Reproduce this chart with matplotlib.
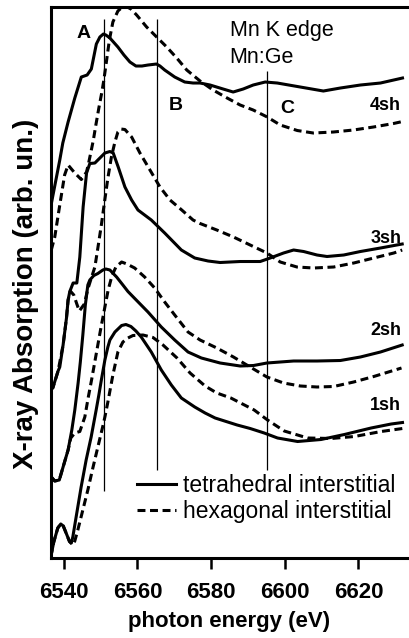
import matplotlib
matplotlib.use("Agg")
import matplotlib.pyplot as plt

plt.rcParams['font.family'] = ['Liberation Sans', 'DejaVu Sans']

# Mn K-edge XANES of Mn:Ge, calculated with 1 to 4 coordination shells.
# Solid: Mn on a tetrahedral interstitial site, dashed: hexagonal interstitial.
# Spectra are stacked vertically (arbitrary units).
tet_4sh_e = [6536.65, 6538.91, 6539.73, 6541.17, 6542.99, 6544.76, 6546.34, 6547.48, 6548.84, 6549.80,
             6550.75, 6551.43, 6552.52, 6554.69, 6556.33, 6557.96, 6559.59, 6561.22, 6562.86, 6565.17,
             6566.12, 6567.40, 6568.57, 6570.12, 6572.84, 6575.10, 6577.01, 6579.73, 6583.27, 6585.99,
             6588.71, 6591.43, 6594.69, 6597.96, 6604.22, 6610.48, 6615.10, 6620.54, 6625.99, 6631.97]
tet_4sh_mu = [3.55, 3.98, 4.15, 4.36, 4.60, 4.81, 4.83, 4.89, 5.14, 5.21,
              5.24, 5.23, 5.20, 5.11, 5.03, 4.96, 4.92, 4.92, 4.93, 4.94,
              4.92, 4.88, 4.85, 4.81, 4.76, 4.75, 4.75, 4.73, 4.69, 4.66,
              4.69, 4.73, 4.76, 4.75, 4.71, 4.67, 4.70, 4.73, 4.75, 4.80]

hex_4sh_e = [6536.60, 6537.55, 6538.78, 6540.22, 6541.17, 6542.99, 6544.76, 6546.18, 6546.80, 6547.48,
             6548.03, 6548.71, 6549.52, 6550.34, 6550.88, 6551.56, 6552.38, 6553.33, 6554.69, 6555.78,
             6557.01, 6558.23, 6559.78, 6562.50, 6565.22, 6567.95, 6570.67, 6573.39, 6577.01, 6580.54,
             6584.35, 6587.89, 6591.43, 6595.24, 6598.78, 6603.40, 6607.76, 6613.20, 6618.64, 6624.08,
             6629.52, 6631.97]
hex_4sh_mu = [3.08, 3.21, 3.50, 3.83, 3.93, 3.85, 3.785, 3.86, 3.96, 4.08,
              4.18, 4.33, 4.50, 4.66, 4.78, 4.96, 5.18, 5.36, 5.47, 5.505,
              5.515, 5.49, 5.43, 5.31, 5.21, 5.11, 5.00, 4.88, 4.77, 4.68,
              4.60, 4.53, 4.48, 4.41, 4.33, 4.275, 4.25, 4.26, 4.28, 4.31,
              4.345, 4.365]

tet_3sh_e = [6536.32, 6537.01, 6538.45, 6538.91, 6539.81, 6540.73, 6541.17, 6541.63, 6542.53, 6543.54,
             6544.35, 6545.25, 6546.18, 6547.07, 6548.44, 6549.80, 6551.16, 6552.52, 6553.42, 6554.78,
             6556.60, 6558.42, 6560.14, 6563.76, 6567.40, 6571.92, 6575.56, 6579.18, 6582.45, 6587.89,
             6593.33, 6596.05, 6599.67, 6602.40, 6605.12, 6608.76, 6611.48, 6616.01, 6620.54, 6625.99,
             6631.89]
tet_3sh_mu = [1.72, 1.70, 1.87, 1.91, 2.13, 2.40, 2.58, 2.665, 2.75, 2.75,
              3.01, 3.51, 3.85, 3.945, 3.95, 4.00, 4.05, 4.065, 4.05, 3.91,
              3.71, 3.58, 3.48, 3.38, 3.25, 3.08, 3.00, 2.97, 2.955, 2.965,
              2.965, 3.00, 3.05, 3.08, 3.065, 3.03, 3.015, 3.03, 3.065, 3.10,
              3.14]

hex_3sh_e = [6536.33, 6537.01, 6538.45, 6539.81, 6540.73, 6541.17, 6541.77, 6542.72, 6543.54, 6544.22,
             6545.58, 6546.53, 6547.48, 6548.44, 6549.25, 6550.20, 6551.02, 6551.97, 6552.93, 6553.88,
             6554.69, 6555.51, 6556.60, 6558.42, 6560.68, 6563.40, 6566.12, 6568.84, 6572.03, 6575.10,
             6577.01, 6581.55, 6586.07, 6590.61, 6595.16, 6598.78, 6603.32, 6607.84, 6613.28, 6618.72,
             6624.16, 6629.61, 6631.89]
hex_3sh_mu = [1.72, 1.70, 1.87, 2.13, 2.40, 2.58, 2.67, 2.63, 2.54, 2.47,
              2.54, 2.69, 2.80, 2.91, 3.10, 3.33, 3.55, 3.80, 4.01, 4.16,
              4.26, 4.29, 4.285, 4.21, 4.05, 3.88, 3.71, 3.58, 3.48, 3.38,
              3.345, 3.28, 3.21, 3.13, 3.05, 2.96, 2.91, 2.90, 2.91, 2.95,
              3.00, 3.05, 3.08]

tet_2sh_e = [6536.60, 6537.55, 6538.78, 6539.81, 6541.17, 6542.18, 6542.99, 6543.89, 6544.49, 6545.17,
             6545.85, 6546.53, 6547.07, 6548.16, 6549.25, 6550.61, 6551.43, 6552.52, 6554.34, 6556.05,
             6557.42, 6559.67, 6562.86, 6566.48, 6570.12, 6573.74, 6577.36, 6582.45, 6587.89, 6591.51,
             6595.16, 6602.40, 6608.76, 6615.10, 6620.54, 6625.99, 6631.89]
tet_2sh_mu = [0.81, 0.77, 0.78, 0.91, 1.08, 1.28, 1.48, 1.75, 1.96, 2.23,
              2.53, 2.73, 2.78, 2.825, 2.845, 2.88, 2.89, 2.88, 2.81, 2.73,
              2.665, 2.58, 2.46, 2.31, 2.18, 2.06, 2.00, 1.95, 1.92, 1.925,
              1.95, 1.97, 1.97, 1.975, 2.01, 2.06, 2.13]

hex_2sh_e = [6536.60, 6537.55, 6538.78, 6539.81, 6541.17, 6541.90, 6542.99, 6544.35, 6545.71, 6546.61,
             6547.54, 6548.90, 6550.07, 6551.16, 6552.05, 6553.06, 6554.15, 6555.70, 6557.14, 6559.24,
             6561.96, 6564.68, 6567.40, 6570.12, 6573.74, 6577.01, 6581.55, 6586.07, 6590.61, 6595.16,
             6599.67, 6604.22, 6608.76, 6613.28, 6618.72, 6624.16, 6631.70]
hex_2sh_mu = [0.81, 0.77, 0.78, 0.91, 1.08, 1.20, 1.25, 1.265, 1.41, 1.60,
              1.78, 2.06, 2.30, 2.51, 2.68, 2.82, 2.91, 2.96, 2.94, 2.90,
              2.81, 2.70, 2.56, 2.43, 2.26, 2.18, 2.10, 2.01, 1.91, 1.81,
              1.75, 1.72, 1.71, 1.715, 1.76, 1.815, 1.90]

tet_1sh_e = [6536.46, 6537.28, 6538.37, 6539.18, 6539.86, 6540.63, 6541.55, 6542.04, 6542.45, 6543.35,
             6544.71, 6546.07, 6547.43, 6548.79, 6549.52, 6550.20, 6551.16, 6551.97, 6552.52, 6553.88,
             6555.70, 6556.87, 6558.23, 6559.59, 6561.03, 6563.76, 6566.48, 6569.20, 6571.92, 6575.56,
             6578.37, 6581.09, 6587.07, 6590.61, 6594.42, 6598.04, 6603.48, 6609.85, 6616.19, 6623.45,
             6628.90, 6631.97]
tet_1sh_mu = [0.01, 0.16, 0.30, 0.34, 0.32, 0.25, 0.165, 0.15, 0.21, 0.41,
              0.71, 0.98, 1.21, 1.48, 1.63, 1.78, 1.98, 2.11, 2.18, 2.26,
              2.325, 2.335, 2.315, 2.27, 2.21, 2.06, 1.88, 1.73, 1.60, 1.51,
              1.45, 1.40, 1.33, 1.295, 1.25, 1.20, 1.165, 1.185, 1.235, 1.30,
              1.34, 1.355]

hex_1sh_e = [6536.46, 6537.28, 6538.37, 6539.18, 6539.86, 6540.63, 6541.55, 6542.45, 6542.99, 6543.81,
             6545.17, 6546.53, 6547.89, 6549.25, 6550.61, 6551.16, 6551.97, 6553.33, 6554.69, 6556.05,
             6557.42, 6558.78, 6561.50, 6564.22, 6566.94, 6570.75, 6574.29, 6578.37, 6581.55, 6585.36,
             6591.70, 6595.32, 6599.86, 6606.20, 6612.57, 6618.91, 6626.18, 6631.97]
hex_1sh_mu = [0.01, 0.16, 0.30, 0.34, 0.32, 0.25, 0.165, 0.13, 0.17, 0.28,
              0.48, 0.68, 0.90, 1.11, 1.32, 1.41, 1.56, 1.83, 2.06, 2.16,
              2.20, 2.225, 2.23, 2.205, 2.13, 2.00, 1.85, 1.72, 1.65, 1.60,
              1.48, 1.38, 1.27, 1.20, 1.195, 1.215, 1.265, 1.295]

# spectral features A, B, C and the vertical extent of their marker lines
feature_labels = ['A', 'B', 'C']
feature_energy = [6551.0, 6565.4, 6595.3]
feature_line_bottom = [0.67, 0.88, 0.88]
feature_line_top = [5.39, 5.39, 4.87]
feature_label_pos = [(6545.4, 5.20), (6570.4, 4.48), (6600.6, 4.45)]

shell_labels = ['4sh', '3sh', '2sh', '1sh']
shell_label_y = [4.48, 3.15, 2.23, 1.48]

xticks = [6540, 6560, 6580, 6600, 6620]

fig = plt.figure(figsize=(4.09, 6.38), dpi=100)
# the frame is open on the right: the axes run off the right edge of the figure
ax = fig.add_axes([0.124, 0.1254, 0.88, 0.8636])

LW = 2.2
DASH = (0, (2.6, 1.5))

tet_series = [(tet_4sh_e, tet_4sh_mu), (tet_3sh_e, tet_3sh_mu), (tet_2sh_e, tet_2sh_mu), (tet_1sh_e, tet_1sh_mu)]
hex_series = [(hex_4sh_e, hex_4sh_mu), (hex_3sh_e, hex_3sh_mu), (hex_2sh_e, hex_2sh_mu), (hex_1sh_e, hex_1sh_mu)]

tet_lines = [ax.plot(e, mu, color='black', lw=LW, solid_joinstyle='round')[0] for e, mu in tet_series]
hex_lines = [ax.plot(e, mu, color='black', lw=LW, linestyle=DASH)[0] for e, mu in hex_series]

ax.vlines(feature_energy, feature_line_bottom, feature_line_top, color='black', lw=0.9)
for lab, (x, y) in zip(feature_labels, feature_label_pos):
    ax.text(x, y, lab, fontsize=14, fontweight='bold', ha='center', va='baseline')

for lab, y in zip(shell_labels, shell_label_y):
    ax.text(6631.6, y, lab, fontsize=13, fontweight='bold', ha='right', va='baseline')

ax.text(6585.0, 5.22, 'Mn K edge', fontsize=15.5, ha='left', va='baseline')
ax.text(6585.0, 4.95, 'Mn:Ge', fontsize=15.5, ha='left', va='baseline')

ax.legend([tet_lines[0], hex_lines[0]], ['tetrahedral interstitial', 'hexagonal interstitial'],
          loc='upper left', bbox_to_anchor=(0.239, 0.152), frameon=False,
          borderpad=0, borderaxespad=0, handlelength=1.72, handletextpad=0.3,
          labelspacing=0.12, fontsize=16.5)

ax.set_xlim(6536.45, 6634.18)
ax.set_ylim(0, 5.51)
ax.set_xticks(xticks)
ax.set_yticks([])
ax.tick_params(axis='x', direction='out', length=8, width=1.8, pad=9, labelsize=16)
for t in ax.get_xticklabels():
    t.set_fontweight('bold')

for side in ['left', 'top', 'bottom']:
    ax.spines[side].set_linewidth(2.2)
ax.spines['right'].set_visible(False)

ax.set_xlabel('photon energy (eV)', fontsize=16, fontweight='bold')
ax.set_ylabel('X-ray Absorption (arb. un.)', fontsize=20, fontweight='bold')
ax.xaxis.set_label_coords(0.496, -0.097)
ax.yaxis.set_label_coords(-0.033, 0.479)

fig.savefig('out.png', dpi=100)
